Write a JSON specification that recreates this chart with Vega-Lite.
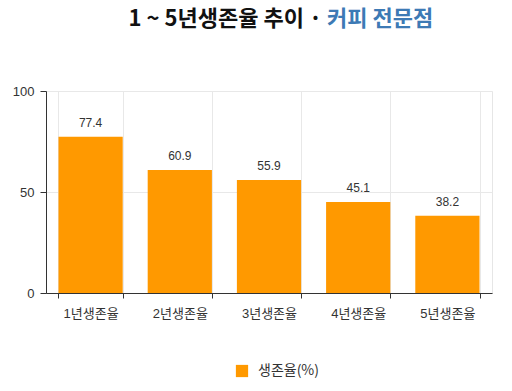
{
  "$schema": "https://vega.github.io/schema/vega-lite/v6.json",
  "autosize": {"type": "none"},
  "padding": {"left": 46, "top": 91, "right": 20, "bottom": 98},
  "width": 446,
  "height": 202,
  "background": "white",
  "config": {
    "font": "Liberation Sans, Noto Sans CJK KR",
    "view": {"stroke": "#e6e6e6"}
  },
  "title": {
    "text": "1 ~ 5년생존율 추이 ·",
    "subtitle": "커피 전문점",
    "anchor": "middle",
    "align": "left",
    "dx": 58,
    "offset": 54,
    "font": "Noto Sans CJK KR",
    "fontSize": 22,
    "fontWeight": "bold",
    "color": "#111111",
    "subtitleFont": "Noto Sans CJK KR",
    "subtitleFontSize": 22,
    "subtitleFontWeight": "bold",
    "subtitleColor": "#3d7ab5",
    "subtitlePadding": -22,
    "encoding": {"align": {"value": "right"}, "dx": {"value": 53}}
  },
  "data": {
    "values": [
      {"category": "1년생존율", "value": 77.4, "series": "생존율(%)"},
      {"category": "2년생존율", "value": 60.9, "series": "생존율(%)"},
      {"category": "3년생존율", "value": 55.9, "series": "생존율(%)"},
      {"category": "4년생존율", "value": 45.1, "series": "생존율(%)"},
      {"category": "5년생존율", "value": 38.2, "series": "생존율(%)"}
    ]
  },
  "encoding": {
    "x": {
      "field": "category",
      "type": "nominal",
      "sort": null,
      "scale": {"paddingInner": 0.28, "paddingOuter": 0.14},
      "axis": {
        "title": null,
        "labelAngle": 0,
        "labelFontSize": 13,
        "labelColor": "#333333",
        "labelPadding": 9,
        "tickBand": "extent",
        "tickSize": 5,
        "tickColor": "#333333",
        "domainColor": "#333333",
        "grid": true,
        "gridColor": "#e8e8e8"
      }
    },
    "y": {
      "field": "value",
      "type": "quantitative",
      "scale": {"domain": [0, 100]},
      "axis": {
        "title": null,
        "values": [0, 50, 100],
        "labelFontSize": 13,
        "labelColor": "#333333",
        "labelPadding": 6,
        "tickSize": 6,
        "tickColor": "#333333",
        "domainColor": "#333333",
        "gridColor": "#e8e8e8"
      }
    }
  },
  "layer": [
    {
      "mark": {"type": "bar"},
      "encoding": {
        "color": {
          "field": "series",
          "type": "nominal",
          "scale": {"range": ["#ff9900"]},
          "legend": {
            "title": null,
            "orient": "none",
            "legendX": 189,
            "legendY": 273,
            "padding": 0,
            "symbolType": "square",
            "symbolSize": 150,
            "symbolOpacity": 1,
            "labelOffset": 9,
            "labelFontSize": 14,
            "labelColor": "#333333",
            "labelFont": "Noto Sans CJK KR"
          }
        }
      }
    },
    {
      "mark": {"type": "text", "baseline": "bottom", "dy": -7, "fontSize": 12, "color": "#333333"},
      "encoding": {"text": {"field": "value", "type": "quantitative", "format": ".1f"}}
    }
  ]
}
